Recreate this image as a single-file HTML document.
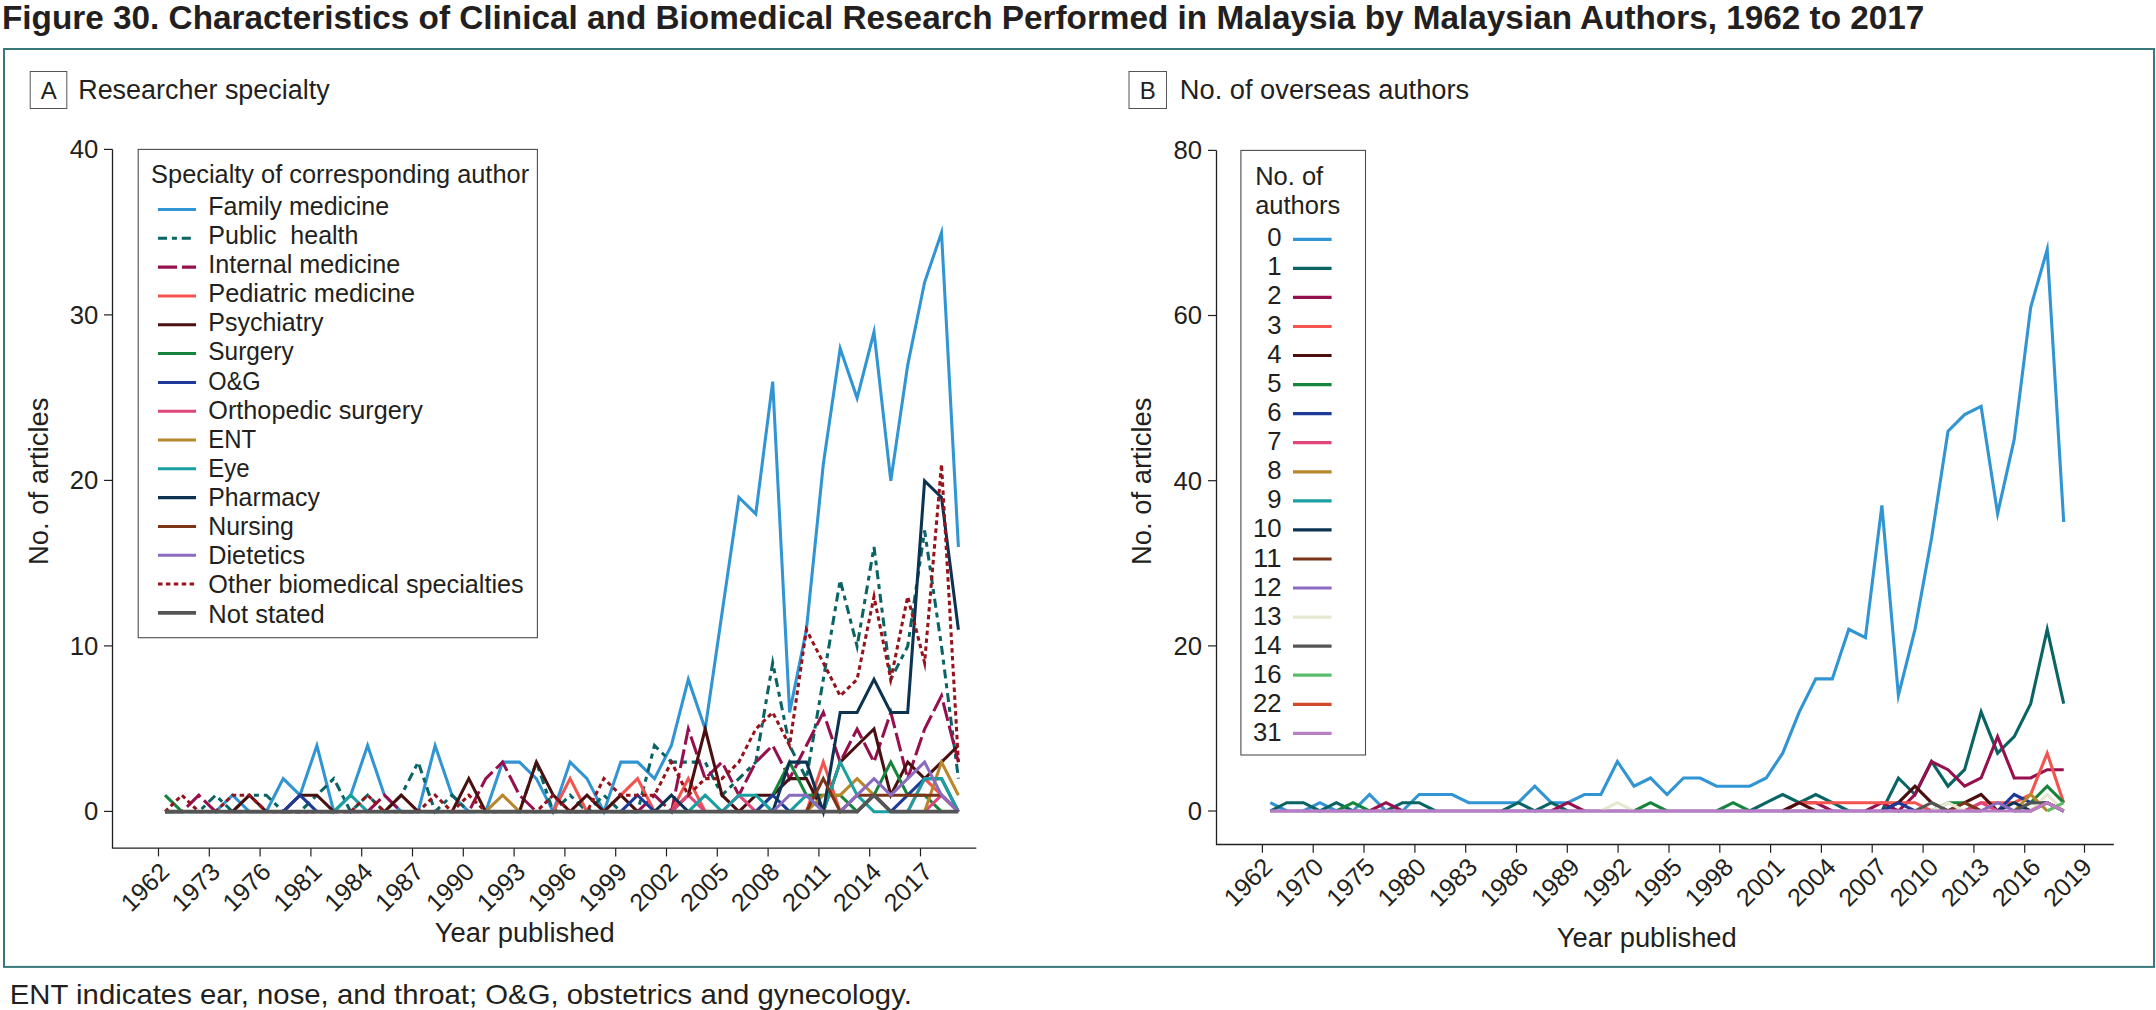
<!DOCTYPE html>
<html lang="en"><head><meta charset="utf-8"><title>Figure 30</title>
<style>html,body{margin:0;padding:0;background:#fff}body{width:2156px;height:1010px;overflow:hidden}svg{display:block;position:absolute;left:0;top:0}text{font-family:"Liberation Sans", sans-serif;fill:#231f20}.t24{font-size:25px}.t26{font-size:26.8px}.ln{fill:none;stroke-linejoin:miter;stroke-miterlimit:6.4;stroke-linecap:butt}</style>
</head><body>
<svg width="2156" height="1010" viewBox="0 0 2156 1010">
<text x="2.0" y="29.2" font-size="33.2" font-weight="bold" textLength="1922.4" lengthAdjust="spacingAndGlyphs">Figure 30. Characteristics of Clinical and Biomedical Research Performed in Malaysia by Malaysian Authors, 1962 to 2017</text>
<rect x="4" y="49" width="2150" height="917.9" fill="none" stroke="#397878" stroke-width="2"/>
<text x="9.8" y="1003.6" font-size="28" textLength="902" lengthAdjust="spacingAndGlyphs">ENT indicates ear, nose, and throat; O&amp;G, obstetrics and gynecology.</text>
<rect x="30.2" y="71.5" width="36.6" height="37.0" fill="#fff" stroke="#555" stroke-width="1"/>
<text x="48.7" y="98.8" font-size="24" text-anchor="middle">A</text>
<text x="78.2" y="98.8" class="t26" textLength="251.5" lengthAdjust="spacingAndGlyphs">Researcher specialty</text>
<rect x="1129.0" y="71.5" width="37.5" height="37.0" fill="#fff" stroke="#555" stroke-width="1"/>
<text x="1147.8" y="98.8" font-size="24" text-anchor="middle">B</text>
<text x="1179.8" y="98.8" class="t26" textLength="289.4" lengthAdjust="spacingAndGlyphs">No. of overseas authors</text>
<path d="M112.5 149.4V848.2H976.3" fill="none" stroke="#231f20" stroke-width="1.3"/>
<path d="M104.0 811.4H112.5" stroke="#231f20" stroke-width="1.2"/>
<text x="98.4" y="820.2" class="t24" text-anchor="end" textLength="14.3" lengthAdjust="spacingAndGlyphs">0</text>
<path d="M104.0 645.9H112.5" stroke="#231f20" stroke-width="1.2"/>
<text x="98.4" y="654.7" class="t24" text-anchor="end" textLength="28.6" lengthAdjust="spacingAndGlyphs">10</text>
<path d="M104.0 480.4H112.5" stroke="#231f20" stroke-width="1.2"/>
<text x="98.4" y="489.2" class="t24" text-anchor="end" textLength="28.6" lengthAdjust="spacingAndGlyphs">20</text>
<path d="M104.0 314.9H112.5" stroke="#231f20" stroke-width="1.2"/>
<text x="98.4" y="323.7" class="t24" text-anchor="end" textLength="28.6" lengthAdjust="spacingAndGlyphs">30</text>
<path d="M104.0 149.4H112.5" stroke="#231f20" stroke-width="1.2"/>
<text x="98.4" y="158.2" class="t24" text-anchor="end" textLength="28.6" lengthAdjust="spacingAndGlyphs">40</text>
<path d="M158.5 848.2V856.4" stroke="#231f20" stroke-width="1.2"/>
<text class="t24" text-anchor="end" transform="translate(170.8 873.4) rotate(-45)" textLength="56" lengthAdjust="spacingAndGlyphs">1962</text>
<path d="M209.3 848.2V856.4" stroke="#231f20" stroke-width="1.2"/>
<text class="t24" text-anchor="end" transform="translate(221.7 873.4) rotate(-45)" textLength="56" lengthAdjust="spacingAndGlyphs">1973</text>
<path d="M260.1 848.2V856.4" stroke="#231f20" stroke-width="1.2"/>
<text class="t24" text-anchor="end" transform="translate(272.5 873.4) rotate(-45)" textLength="56" lengthAdjust="spacingAndGlyphs">1976</text>
<path d="M310.9 848.2V856.4" stroke="#231f20" stroke-width="1.2"/>
<text class="t24" text-anchor="end" transform="translate(323.4 873.4) rotate(-45)" textLength="56" lengthAdjust="spacingAndGlyphs">1981</text>
<path d="M361.7 848.2V856.4" stroke="#231f20" stroke-width="1.2"/>
<text class="t24" text-anchor="end" transform="translate(374.3 873.4) rotate(-45)" textLength="56" lengthAdjust="spacingAndGlyphs">1984</text>
<path d="M412.5 848.2V856.4" stroke="#231f20" stroke-width="1.2"/>
<text class="t24" text-anchor="end" transform="translate(425.1 873.4) rotate(-45)" textLength="56" lengthAdjust="spacingAndGlyphs">1987</text>
<path d="M463.3 848.2V856.4" stroke="#231f20" stroke-width="1.2"/>
<text class="t24" text-anchor="end" transform="translate(476.0 873.4) rotate(-45)" textLength="56" lengthAdjust="spacingAndGlyphs">1990</text>
<path d="M514.1 848.2V856.4" stroke="#231f20" stroke-width="1.2"/>
<text class="t24" text-anchor="end" transform="translate(526.9 873.4) rotate(-45)" textLength="56" lengthAdjust="spacingAndGlyphs">1993</text>
<path d="M564.9 848.2V856.4" stroke="#231f20" stroke-width="1.2"/>
<text class="t24" text-anchor="end" transform="translate(577.8 873.4) rotate(-45)" textLength="56" lengthAdjust="spacingAndGlyphs">1996</text>
<path d="M615.7 848.2V856.4" stroke="#231f20" stroke-width="1.2"/>
<text class="t24" text-anchor="end" transform="translate(628.6 873.4) rotate(-45)" textLength="56" lengthAdjust="spacingAndGlyphs">1999</text>
<path d="M666.5 848.2V856.4" stroke="#231f20" stroke-width="1.2"/>
<text class="t24" text-anchor="end" transform="translate(679.5 873.4) rotate(-45)" textLength="56" lengthAdjust="spacingAndGlyphs">2002</text>
<path d="M717.3 848.2V856.4" stroke="#231f20" stroke-width="1.2"/>
<text class="t24" text-anchor="end" transform="translate(730.4 873.4) rotate(-45)" textLength="56" lengthAdjust="spacingAndGlyphs">2005</text>
<path d="M768.1 848.2V856.4" stroke="#231f20" stroke-width="1.2"/>
<text class="t24" text-anchor="end" transform="translate(781.2 873.4) rotate(-45)" textLength="56" lengthAdjust="spacingAndGlyphs">2008</text>
<path d="M818.9 848.2V856.4" stroke="#231f20" stroke-width="1.2"/>
<text class="t24" text-anchor="end" transform="translate(832.1 873.4) rotate(-45)" textLength="56" lengthAdjust="spacingAndGlyphs">2011</text>
<path d="M869.7 848.2V856.4" stroke="#231f20" stroke-width="1.2"/>
<text class="t24" text-anchor="end" transform="translate(883.0 873.4) rotate(-45)" textLength="56" lengthAdjust="spacingAndGlyphs">2014</text>
<path d="M920.5 848.2V856.4" stroke="#231f20" stroke-width="1.2"/>
<text class="t24" text-anchor="end" transform="translate(933.8 873.4) rotate(-45)" textLength="56" lengthAdjust="spacingAndGlyphs">2017</text>
<text class="t26" text-anchor="middle" transform="translate(47.5 481.3) rotate(-90)" textLength="167.5" lengthAdjust="spacingAndGlyphs">No. of articles</text>
<text x="434.8" y="941.5" class="t26" textLength="180" lengthAdjust="spacingAndGlyphs">Year published</text>
<path d="M1216.5 150.4V844.5H2113.8" fill="none" stroke="#231f20" stroke-width="1.3"/>
<path d="M1208.0 811.0H1216.5" stroke="#231f20" stroke-width="1.2"/>
<text x="1202.0" y="819.8" class="t24" text-anchor="end" textLength="14.3" lengthAdjust="spacingAndGlyphs">0</text>
<path d="M1208.0 645.9H1216.5" stroke="#231f20" stroke-width="1.2"/>
<text x="1202.0" y="654.6" class="t24" text-anchor="end" textLength="28.6" lengthAdjust="spacingAndGlyphs">20</text>
<path d="M1208.0 480.7H1216.5" stroke="#231f20" stroke-width="1.2"/>
<text x="1202.0" y="489.5" class="t24" text-anchor="end" textLength="28.6" lengthAdjust="spacingAndGlyphs">40</text>
<path d="M1208.0 315.5H1216.5" stroke="#231f20" stroke-width="1.2"/>
<text x="1202.0" y="324.3" class="t24" text-anchor="end" textLength="28.6" lengthAdjust="spacingAndGlyphs">60</text>
<path d="M1208.0 150.4H1216.5" stroke="#231f20" stroke-width="1.2"/>
<text x="1202.0" y="159.2" class="t24" text-anchor="end" textLength="28.6" lengthAdjust="spacingAndGlyphs">80</text>
<path d="M1262.4 844.5V852.7" stroke="#231f20" stroke-width="1.2"/>
<text class="t24" text-anchor="end" transform="translate(1273.9 868.5) rotate(-45)" textLength="56" lengthAdjust="spacingAndGlyphs">1962</text>
<path d="M1313.2 844.5V852.7" stroke="#231f20" stroke-width="1.2"/>
<text class="t24" text-anchor="end" transform="translate(1325.1 868.5) rotate(-45)" textLength="56" lengthAdjust="spacingAndGlyphs">1970</text>
<path d="M1364.0 844.5V852.7" stroke="#231f20" stroke-width="1.2"/>
<text class="t24" text-anchor="end" transform="translate(1376.3 868.5) rotate(-45)" textLength="56" lengthAdjust="spacingAndGlyphs">1975</text>
<path d="M1414.9 844.5V852.7" stroke="#231f20" stroke-width="1.2"/>
<text class="t24" text-anchor="end" transform="translate(1427.6 868.5) rotate(-45)" textLength="56" lengthAdjust="spacingAndGlyphs">1980</text>
<path d="M1465.7 844.5V852.7" stroke="#231f20" stroke-width="1.2"/>
<text class="t24" text-anchor="end" transform="translate(1478.8 868.5) rotate(-45)" textLength="56" lengthAdjust="spacingAndGlyphs">1983</text>
<path d="M1516.5 844.5V852.7" stroke="#231f20" stroke-width="1.2"/>
<text class="t24" text-anchor="end" transform="translate(1530.0 868.5) rotate(-45)" textLength="56" lengthAdjust="spacingAndGlyphs">1986</text>
<path d="M1567.3 844.5V852.7" stroke="#231f20" stroke-width="1.2"/>
<text class="t24" text-anchor="end" transform="translate(1581.2 868.5) rotate(-45)" textLength="56" lengthAdjust="spacingAndGlyphs">1989</text>
<path d="M1618.1 844.5V852.7" stroke="#231f20" stroke-width="1.2"/>
<text class="t24" text-anchor="end" transform="translate(1632.4 868.5) rotate(-45)" textLength="56" lengthAdjust="spacingAndGlyphs">1992</text>
<path d="M1669.0 844.5V852.7" stroke="#231f20" stroke-width="1.2"/>
<text class="t24" text-anchor="end" transform="translate(1683.7 868.5) rotate(-45)" textLength="56" lengthAdjust="spacingAndGlyphs">1995</text>
<path d="M1719.8 844.5V852.7" stroke="#231f20" stroke-width="1.2"/>
<text class="t24" text-anchor="end" transform="translate(1734.9 868.5) rotate(-45)" textLength="56" lengthAdjust="spacingAndGlyphs">1998</text>
<path d="M1770.6 844.5V852.7" stroke="#231f20" stroke-width="1.2"/>
<text class="t24" text-anchor="end" transform="translate(1786.1 868.5) rotate(-45)" textLength="56" lengthAdjust="spacingAndGlyphs">2001</text>
<path d="M1821.4 844.5V852.7" stroke="#231f20" stroke-width="1.2"/>
<text class="t24" text-anchor="end" transform="translate(1837.3 868.5) rotate(-45)" textLength="56" lengthAdjust="spacingAndGlyphs">2004</text>
<path d="M1872.2 844.5V852.7" stroke="#231f20" stroke-width="1.2"/>
<text class="t24" text-anchor="end" transform="translate(1888.5 868.5) rotate(-45)" textLength="56" lengthAdjust="spacingAndGlyphs">2007</text>
<path d="M1923.1 844.5V852.7" stroke="#231f20" stroke-width="1.2"/>
<text class="t24" text-anchor="end" transform="translate(1939.8 868.5) rotate(-45)" textLength="56" lengthAdjust="spacingAndGlyphs">2010</text>
<path d="M1973.9 844.5V852.7" stroke="#231f20" stroke-width="1.2"/>
<text class="t24" text-anchor="end" transform="translate(1991.0 868.5) rotate(-45)" textLength="56" lengthAdjust="spacingAndGlyphs">2013</text>
<path d="M2024.7 844.5V852.7" stroke="#231f20" stroke-width="1.2"/>
<text class="t24" text-anchor="end" transform="translate(2042.2 868.5) rotate(-45)" textLength="56" lengthAdjust="spacingAndGlyphs">2016</text>
<path d="M2084.5 844.5V852.7" stroke="#231f20" stroke-width="1.2"/>
<text class="t24" text-anchor="end" transform="translate(2093.4 868.5) rotate(-45)" textLength="56" lengthAdjust="spacingAndGlyphs">2019</text>
<text class="t26" text-anchor="middle" transform="translate(1151.0 481.3) rotate(-90)" textLength="167.5" lengthAdjust="spacingAndGlyphs">No. of articles</text>
<text x="1556.8" y="946.5" class="t26" textLength="180" lengthAdjust="spacingAndGlyphs">Year published</text>
<g>
<polyline class="ln" points="215.6,811.7 232.5,795.2 249.4,811.7" stroke="#3195d4" stroke-width="3.05"/>
<polyline class="ln" points="266.3,811.7 283.2,778.6 300.0,795.2 316.9,745.5 333.8,811.7 350.7,795.2 367.6,745.5 384.4,795.2 401.3,811.7" stroke="#3195d4" stroke-width="3.05"/>
<polyline class="ln" points="418.2,811.7 435.1,745.5 452.0,795.2 468.8,811.7" stroke="#3195d4" stroke-width="3.05"/>
<polyline class="ln" points="485.7,811.7 502.6,762.1 519.5,762.1 536.4,778.6 553.2,811.7 570.1,762.1 587.0,778.6 603.9,811.7 620.8,762.1 637.6,762.1 654.5,778.6 671.4,745.5 688.3,679.4 705.2,729.0 722.0,613.2 738.9,497.4 755.8,513.9 772.7,381.6 789.6,712.4 806.4,629.7 823.3,464.3 840.2,348.5 857.1,398.1 874.0,332.0 890.8,480.9 907.7,365.1 924.6,282.3 941.5,232.7 958.4,547.0" stroke="#3195d4" stroke-width="3.05"/>
<polyline class="ln" points="165.0,811.7 181.9,811.7 198.8,811.7 215.6,795.2 232.5,811.7 249.4,795.2 266.3,795.2 283.2,811.7 300.0,811.7 316.9,795.2 333.8,778.6 350.7,811.7 367.6,795.2 384.4,811.7 401.3,795.2 418.2,762.1 435.1,811.7 452.0,795.2 468.8,811.7 485.7,811.7 502.6,811.7 519.5,811.7 536.4,762.1 553.2,811.7 570.1,795.2 587.0,811.7 603.9,795.2 620.8,811.7 637.6,811.7 654.5,745.5 671.4,762.1 688.3,762.1 705.2,762.1 722.0,795.2 738.9,778.6 755.8,762.1 772.7,662.8 789.6,745.5 806.4,778.6 823.3,679.4 840.2,580.1 857.1,646.3 874.0,547.0 890.8,679.4 907.7,646.3 924.6,530.5 941.5,646.3 958.4,778.6" stroke="#0a6464" stroke-width="3.05" stroke-dasharray="9 4.9 5 4.9"/>
<polyline class="ln" points="165.0,811.7 181.9,811.7 198.8,795.2 215.6,811.7 232.5,811.7 249.4,811.7 266.3,811.7 283.2,811.7 300.0,811.7 316.9,811.7 333.8,811.7 350.7,811.7 367.6,811.7 384.4,795.2 401.3,811.7 418.2,811.7 435.1,811.7 452.0,811.7 468.8,811.7 485.7,778.6 502.6,762.1 519.5,795.2 536.4,811.7 553.2,811.7 570.1,811.7 587.0,811.7 603.9,811.7 620.8,811.7 637.6,811.7 654.5,795.2 671.4,811.7 688.3,729.0 705.2,778.6 722.0,762.1 738.9,795.2 755.8,762.1 772.7,745.5 789.6,778.6 806.4,745.5 823.3,712.4 840.2,762.1 857.1,729.0 874.0,762.1 890.8,712.4 907.7,778.6 924.6,729.0 941.5,695.9 958.4,762.1" stroke="#97104e" stroke-width="3.05" stroke-dasharray="19 4.9"/>
<polyline class="ln" points="553.2,811.7 570.1,778.6 587.0,811.7" stroke="#f4544f" stroke-width="3.05"/>
<polyline class="ln" points="603.9,811.7 620.8,795.2 637.6,778.6 654.5,811.7" stroke="#f4544f" stroke-width="3.05"/>
<polyline class="ln" points="671.4,811.7 688.3,778.6 705.2,811.7" stroke="#f4544f" stroke-width="3.05"/>
<polyline class="ln" points="806.4,811.7 823.3,762.1 840.2,811.7" stroke="#f4544f" stroke-width="3.05"/>
<polyline class="ln" points="907.7,811.7 924.6,778.6 941.5,795.2 958.4,811.7" stroke="#f4544f" stroke-width="3.05"/>
<polyline class="ln" points="232.5,811.7 249.4,795.2 266.3,811.7" stroke="#4a1010" stroke-width="3.05"/>
<polyline class="ln" points="283.2,811.7 300.0,795.2 316.9,795.2 333.8,811.7" stroke="#4a1010" stroke-width="3.05"/>
<polyline class="ln" points="384.4,811.7 401.3,795.2 418.2,811.7" stroke="#4a1010" stroke-width="3.05"/>
<polyline class="ln" points="452.0,811.7 468.8,778.6 485.7,811.7" stroke="#4a1010" stroke-width="3.05"/>
<polyline class="ln" points="519.5,811.7 536.4,762.1 553.2,795.2 570.1,811.7 587.0,795.2 603.9,811.7 620.8,795.2 637.6,811.7" stroke="#4a1010" stroke-width="3.05"/>
<polyline class="ln" points="671.4,811.7 688.3,795.2 705.2,729.0 722.0,795.2 738.9,811.7 755.8,795.2 772.7,795.2 789.6,778.6 806.4,778.6 823.3,811.7 840.2,762.1 857.1,745.5 874.0,729.0 890.8,795.2 907.7,762.1 924.6,778.6 941.5,762.1 958.4,745.5" stroke="#4a1010" stroke-width="3.05"/>
<polyline class="ln" points="165.0,795.2 181.9,811.7" stroke="#16843c" stroke-width="3.05"/>
<polyline class="ln" points="755.8,811.7 772.7,795.2 789.6,762.1 806.4,795.2 823.3,795.2 840.2,795.2 857.1,811.7 874.0,795.2 890.8,762.1 907.7,795.2 924.6,795.2 941.5,811.7" stroke="#16843c" stroke-width="3.05"/>
<polyline class="ln" points="283.2,811.7 300.0,795.2 316.9,811.7" stroke="#1e3a99" stroke-width="3.05"/>
<polyline class="ln" points="620.8,811.7 637.6,795.2 654.5,811.7" stroke="#1e3a99" stroke-width="3.05"/>
<polyline class="ln" points="755.8,811.7 772.7,795.2 789.6,811.7" stroke="#1e3a99" stroke-width="3.05"/>
<polyline class="ln" points="890.8,811.7 907.7,795.2 924.6,778.6 941.5,778.6 958.4,811.7" stroke="#1e3a99" stroke-width="3.05"/>
<polyline class="ln" points="671.4,811.7 688.3,795.2 705.2,811.7" stroke="#e0457b" stroke-width="3.05"/>
<polyline class="ln" points="722.0,811.7 738.9,795.2 755.8,811.7" stroke="#e0457b" stroke-width="3.05"/>
<polyline class="ln" points="924.6,811.7 941.5,795.2 958.4,811.7" stroke="#e0457b" stroke-width="3.05"/>
<polyline class="ln" points="485.7,811.7 502.6,795.2 519.5,811.7" stroke="#b8872b" stroke-width="3.05"/>
<polyline class="ln" points="806.4,811.7 823.3,795.2 840.2,795.2 857.1,778.6 874.0,795.2 890.8,811.7" stroke="#b8872b" stroke-width="3.05"/>
<polyline class="ln" points="924.6,811.7 941.5,762.1 958.4,795.2" stroke="#b8872b" stroke-width="3.05"/>
<polyline class="ln" points="165.0,811.7 181.9,811.7 198.8,811.7 215.6,811.7 232.5,811.7 249.4,811.7 266.3,811.7 283.2,811.7 300.0,811.7 316.9,811.7 333.8,811.7 350.7,795.2 367.6,811.7 384.4,811.7 401.3,811.7 418.2,811.7 435.1,811.7 452.0,811.7 468.8,811.7 485.7,811.7 502.6,811.7 519.5,811.7 536.4,811.7 553.2,811.7 570.1,811.7 587.0,811.7 603.9,811.7 620.8,811.7 637.6,811.7 654.5,811.7 671.4,811.7 688.3,811.7 705.2,795.2 722.0,811.7 738.9,795.2 755.8,795.2 772.7,811.7 789.6,811.7 806.4,795.2 823.3,811.7 840.2,762.1 857.1,795.2 874.0,811.7 890.8,811.7 907.7,811.7 924.6,778.6 941.5,778.6 958.4,811.7" stroke="#1aa0a0" stroke-width="3.05"/>
<polyline class="ln" points="654.5,811.7 671.4,795.2 688.3,811.7" stroke="#0c3352" stroke-width="3.05"/>
<polyline class="ln" points="772.7,811.7 789.6,762.1 806.4,762.1 823.3,811.7 840.2,712.4 857.1,712.4 874.0,679.4 890.8,712.4 907.7,712.4 924.6,480.9 941.5,497.4 958.4,629.7" stroke="#0c3352" stroke-width="3.05"/>
<polyline class="ln" points="806.4,811.7 823.3,778.6 840.2,811.7 857.1,795.2 874.0,795.2 890.8,795.2 907.7,795.2 924.6,795.2 941.5,795.2 958.4,811.7" stroke="#7c3519" stroke-width="3.05"/>
<polyline class="ln" points="772.7,811.7 789.6,795.2 806.4,795.2 823.3,811.7" stroke="#8a6bbf" stroke-width="3.05"/>
<polyline class="ln" points="840.2,811.7 857.1,795.2 874.0,778.6 890.8,795.2 907.7,778.6 924.6,762.1 941.5,795.2 958.4,811.7" stroke="#8a6bbf" stroke-width="3.05"/>
<polyline class="ln" points="165.0,811.7 181.9,795.2 198.8,811.7 215.6,811.7 232.5,795.2 249.4,795.2 266.3,811.7 283.2,811.7 300.0,811.7 316.9,811.7 333.8,811.7 350.7,811.7 367.6,795.2 384.4,811.7 401.3,811.7 418.2,811.7 435.1,795.2 452.0,811.7 468.8,795.2 485.7,811.7 502.6,811.7 519.5,811.7 536.4,811.7 553.2,795.2 570.1,811.7 587.0,811.7 603.9,778.6 620.8,795.2 637.6,795.2 654.5,795.2 671.4,762.1 688.3,795.2 705.2,778.6 722.0,778.6 738.9,762.1 755.8,729.0 772.7,712.4 789.6,745.5 806.4,629.7 823.3,662.8 840.2,695.9 857.1,679.4 874.0,596.6 890.8,679.4 907.7,596.6 924.6,662.8 941.5,464.3 958.4,762.1" stroke="#96131b" stroke-width="3.05" stroke-dasharray="4.5 3.4"/>
<polyline class="ln" points="165.0,811.7 181.9,811.7 198.8,811.7 215.6,811.7 232.5,811.7 249.4,811.7 266.3,811.7 283.2,811.7 300.0,811.7 316.9,811.7 333.8,811.7 350.7,811.7 367.6,811.7 384.4,811.7 401.3,811.7 418.2,811.7 435.1,811.7 452.0,811.7 468.8,811.7 485.7,811.7 502.6,811.7 519.5,811.7 536.4,811.7 553.2,811.7 570.1,811.7 587.0,811.7 603.9,811.7 620.8,811.7 637.6,811.7 654.5,811.7 671.4,811.7 688.3,811.7 705.2,811.7 722.0,811.7 738.9,811.7 755.8,811.7 772.7,811.7 789.6,811.7 806.4,811.7 823.3,811.7 840.2,811.7 857.1,811.7 874.0,795.2 890.8,811.7 907.7,811.7 924.6,811.7 941.5,811.7 958.4,811.7" stroke="#555555" stroke-width="3.8"/>
</g><g>
<polyline class="ln" points="1270.3,802.7 1286.8,811.0" stroke="#3195d4" stroke-width="3.1"/>
<polyline class="ln" points="1303.4,811.0 1319.9,802.7 1336.4,811.0" stroke="#3195d4" stroke-width="3.1"/>
<polyline class="ln" points="1353.0,811.0 1369.5,794.5 1386.0,811.0" stroke="#3195d4" stroke-width="3.1"/>
<polyline class="ln" points="1402.5,811.0 1419.1,794.5 1435.6,794.5 1452.1,794.5 1468.7,802.7 1485.2,802.7 1501.7,802.7 1518.2,802.7 1534.8,786.2 1551.3,802.7 1567.8,802.7 1584.4,794.5 1600.9,794.5 1617.4,761.5 1634.0,786.2 1650.5,778.0 1667.0,794.5 1683.5,778.0 1700.1,778.0 1716.6,786.2 1733.1,786.2 1749.7,786.2 1766.2,778.0 1782.7,753.2 1799.3,711.9 1815.8,678.9 1832.3,678.9 1848.8,629.3 1865.4,637.6 1881.9,505.5 1898.4,695.4 1915.0,629.3 1931.5,538.5 1948.0,431.2 1964.6,414.6 1981.1,406.4 1997.6,513.7 2014.2,439.4 2030.7,307.3 2047.2,249.5 2063.7,522.0" stroke="#3195d4" stroke-width="3.1"/>
<polyline class="ln" points="1270.3,811.0 1286.8,802.7 1303.4,802.7 1319.9,811.0 1336.4,802.7 1353.0,811.0" stroke="#0a6464" stroke-width="3.1"/>
<polyline class="ln" points="1386.0,811.0 1402.5,802.7 1419.1,802.7 1435.6,811.0" stroke="#0a6464" stroke-width="3.1"/>
<polyline class="ln" points="1501.7,811.0 1518.2,802.7 1534.8,811.0 1551.3,802.7 1567.8,811.0" stroke="#0a6464" stroke-width="3.1"/>
<polyline class="ln" points="1749.7,811.0 1766.2,802.7 1782.7,794.5 1799.3,802.7 1815.8,794.5 1832.3,802.7 1848.8,811.0" stroke="#0a6464" stroke-width="3.1"/>
<polyline class="ln" points="1881.9,811.0 1898.4,778.0 1915.0,794.5 1931.5,761.5 1948.0,786.2 1964.6,769.7 1981.1,711.9 1997.6,753.2 2014.2,736.7 2030.7,703.7 2047.2,629.3 2063.7,703.7" stroke="#0a6464" stroke-width="3.1"/>
<polyline class="ln" points="1369.5,811.0 1386.0,802.7 1402.5,811.0" stroke="#97104e" stroke-width="3.1"/>
<polyline class="ln" points="1551.3,811.0 1567.8,802.7 1584.4,811.0" stroke="#97104e" stroke-width="3.1"/>
<polyline class="ln" points="1782.7,811.0 1799.3,802.7 1815.8,802.7 1832.3,811.0" stroke="#97104e" stroke-width="3.1"/>
<polyline class="ln" points="1865.4,811.0 1881.9,802.7 1898.4,811.0 1915.0,794.5 1931.5,761.5 1948.0,769.7 1964.6,786.2 1981.1,778.0 1997.6,736.7 2014.2,778.0 2030.7,778.0 2047.2,769.7 2063.7,769.7" stroke="#97104e" stroke-width="3.1"/>
<polyline class="ln" points="1782.7,811.0 1799.3,802.7 1815.8,802.7 1832.3,802.7 1848.8,802.7 1865.4,802.7 1881.9,802.7 1898.4,802.7 1915.0,802.7 1931.5,811.0" stroke="#f4544f" stroke-width="3.1"/>
<polyline class="ln" points="1964.6,811.0 1981.1,802.7 1997.6,802.7 2014.2,802.7 2030.7,794.5 2047.2,753.2 2063.7,802.7" stroke="#f4544f" stroke-width="3.1"/>
<polyline class="ln" points="1782.7,811.0 1799.3,802.7 1815.8,811.0" stroke="#4a1010" stroke-width="3.1"/>
<polyline class="ln" points="1881.9,811.0 1898.4,802.7 1915.0,786.2 1931.5,802.7 1948.0,811.0 1964.6,802.7 1981.1,794.5 1997.6,811.0" stroke="#4a1010" stroke-width="3.1"/>
<polyline class="ln" points="1336.4,811.0 1353.0,802.7 1369.5,811.0" stroke="#16843c" stroke-width="3.1"/>
<polyline class="ln" points="1634.0,811.0 1650.5,802.7 1667.0,811.0" stroke="#16843c" stroke-width="3.1"/>
<polyline class="ln" points="1716.6,811.0 1733.1,802.7 1749.7,811.0" stroke="#16843c" stroke-width="3.1"/>
<polyline class="ln" points="1931.5,811.0 1948.0,802.7 1964.6,802.7 1981.1,811.0" stroke="#16843c" stroke-width="3.1"/>
<polyline class="ln" points="2014.2,811.0 2030.7,802.7 2047.2,786.2 2063.7,802.7" stroke="#16843c" stroke-width="3.1"/>
<polyline class="ln" points="1881.9,811.0 1898.4,802.7 1915.0,811.0" stroke="#1e3a99" stroke-width="3.1"/>
<polyline class="ln" points="1997.6,811.0 2014.2,794.5 2030.7,802.7 2047.2,802.7 2063.7,811.0" stroke="#1e3a99" stroke-width="3.1"/>
<polyline class="ln" points="1964.6,811.0 1981.1,802.7 1997.6,811.0" stroke="#e0457b" stroke-width="3.1"/>
<polyline class="ln" points="2014.2,811.0 2030.7,794.5 2047.2,811.0" stroke="#b8872b" stroke-width="3.1"/>
<polyline class="ln" points="2030.7,811.0 2047.2,802.7 2063.7,811.0" stroke="#1aa0a0" stroke-width="3.1"/>
<polyline class="ln" points="1997.6,811.0 2014.2,802.7 2030.7,811.0" stroke="#0c3352" stroke-width="3.1"/>
<polyline class="ln" points="1948.0,811.0 1964.6,802.7 1981.1,811.0" stroke="#7c3519" stroke-width="3.1"/>
<polyline class="ln" points="1270.3,811.0 1286.8,811.0 1303.4,811.0 1319.9,811.0 1336.4,811.0 1353.0,811.0 1369.5,811.0 1386.0,811.0 1402.5,811.0 1419.1,811.0 1435.6,811.0 1452.1,811.0 1468.7,811.0 1485.2,811.0 1501.7,811.0 1518.2,811.0 1534.8,811.0 1551.3,811.0 1567.8,811.0 1584.4,811.0 1600.9,811.0 1617.4,811.0 1634.0,811.0 1650.5,811.0 1667.0,811.0 1683.5,811.0 1700.1,811.0 1716.6,811.0 1733.1,811.0 1749.7,811.0 1766.2,811.0 1782.7,811.0 1799.3,811.0 1815.8,811.0 1832.3,811.0 1848.8,811.0 1865.4,811.0 1881.9,811.0 1898.4,811.0 1915.0,811.0 1931.5,811.0 1948.0,811.0 1964.6,811.0 1981.1,811.0 1997.6,802.7 2014.2,811.0 2030.7,811.0 2047.2,802.7 2063.7,811.0" stroke="#8a6bbf" stroke-width="3.1"/>
<polyline class="ln" points="1600.9,811.0 1617.4,802.7 1634.0,811.0" stroke="#e6e9cf" stroke-width="3.1"/>
<polyline class="ln" points="1931.5,811.0 1948.0,802.7 1964.6,811.0" stroke="#e6e9cf" stroke-width="3.1"/>
<polyline class="ln" points="2030.7,811.0 2047.2,794.5 2063.7,811.0" stroke="#e6e9cf" stroke-width="3.1"/>
<polyline class="ln" points="1915.0,811.0 1931.5,802.7 1948.0,811.0" stroke="#555555" stroke-width="3.1"/>
<polyline class="ln" points="2014.2,811.0 2030.7,802.7 2047.2,802.7 2063.7,811.0" stroke="#555555" stroke-width="3.1"/>
<polyline class="ln" points="2047.2,811.0 2063.7,802.7" stroke="#5dbb6f" stroke-width="3.1"/>
<polyline class="ln" points="2030.7,811.0 2047.2,802.7 2063.7,811.0" stroke="#cf4a2b" stroke-width="3.1"/>
<polyline class="ln" points="1270.3,811.0 1286.8,811.0 1303.4,811.0 1319.9,811.0 1336.4,811.0 1353.0,811.0 1369.5,811.0 1386.0,811.0 1402.5,811.0 1419.1,811.0 1435.6,811.0 1452.1,811.0 1468.7,811.0 1485.2,811.0 1501.7,811.0 1518.2,811.0 1534.8,811.0 1551.3,811.0 1567.8,811.0 1584.4,811.0 1600.9,811.0 1617.4,811.0 1634.0,811.0 1650.5,811.0 1667.0,811.0 1683.5,811.0 1700.1,811.0 1716.6,811.0 1733.1,811.0 1749.7,811.0 1766.2,811.0 1782.7,811.0 1799.3,811.0 1815.8,811.0 1832.3,811.0 1848.8,811.0 1865.4,811.0 1881.9,811.0 1898.4,811.0 1915.0,811.0 1931.5,811.0 1948.0,811.0 1964.6,811.0 1981.1,811.0 1997.6,811.0 2014.2,811.0 2030.7,811.0 2047.2,802.7 2063.7,811.0" stroke="#b87fc4" stroke-width="3.1"/>
</g>
<rect x="138.2" y="149.4" width="399.2" height="488.3" fill="#fff" stroke="#4d4d4d" stroke-width="1.1"/>
<text x="151.1" y="182.8" class="t24" textLength="378" lengthAdjust="spacingAndGlyphs">Specialty of corresponding author</text>
<path d="M158 209.5H196.05" stroke="#3195d4" stroke-width="3.05" fill="none"/>
<text x="208.3" y="214.8" class="t24" style="white-space:pre" textLength="180.8" lengthAdjust="spacingAndGlyphs">Family medicine</text>
<path d="M158 238.3H196.05" stroke="#0a6464" stroke-width="3.05" stroke-dasharray="9 4.9 5 4.9 9 100" fill="none"/>
<text x="208.3" y="243.9" class="t24" style="white-space:pre" textLength="150.2" lengthAdjust="spacingAndGlyphs">Public  health</text>
<path d="M158 267.1H196.05" stroke="#97104e" stroke-width="3.05" stroke-dasharray="19 4.9" fill="none"/>
<text x="208.3" y="273.0" class="t24" style="white-space:pre" textLength="191.9" lengthAdjust="spacingAndGlyphs">Internal medicine</text>
<path d="M158 295.9H196.05" stroke="#f4544f" stroke-width="3.05" fill="none"/>
<text x="208.3" y="302.2" class="t24" style="white-space:pre" textLength="206.8" lengthAdjust="spacingAndGlyphs">Pediatric medicine</text>
<path d="M158 324.7H196.05" stroke="#4a1010" stroke-width="3.05" fill="none"/>
<text x="208.3" y="331.3" class="t24" style="white-space:pre" textLength="115.2" lengthAdjust="spacingAndGlyphs">Psychiatry</text>
<path d="M158 353.5H196.05" stroke="#16843c" stroke-width="3.05" fill="none"/>
<text x="208.3" y="360.4" class="t24" style="white-space:pre" textLength="85.4" lengthAdjust="spacingAndGlyphs">Surgery</text>
<path d="M158 382.4H196.05" stroke="#1e3a99" stroke-width="3.05" fill="none"/>
<text x="208.3" y="389.5" class="t24" style="white-space:pre" textLength="52.4" lengthAdjust="spacingAndGlyphs">O&amp;G</text>
<path d="M158 411.2H196.05" stroke="#e0457b" stroke-width="3.05" fill="none"/>
<text x="208.3" y="418.6" class="t24" style="white-space:pre" textLength="214.5" lengthAdjust="spacingAndGlyphs">Orthopedic surgery</text>
<path d="M158 440.0H196.05" stroke="#b8872b" stroke-width="3.05" fill="none"/>
<text x="208.3" y="447.8" class="t24" style="white-space:pre" textLength="47.8" lengthAdjust="spacingAndGlyphs">ENT</text>
<path d="M158 468.8H196.05" stroke="#1aa0a0" stroke-width="3.05" fill="none"/>
<text x="208.3" y="476.9" class="t24" style="white-space:pre" textLength="41.4" lengthAdjust="spacingAndGlyphs">Eye</text>
<path d="M158 497.6H196.05" stroke="#0c3352" stroke-width="3.05" fill="none"/>
<text x="208.3" y="506.0" class="t24" style="white-space:pre" textLength="111.6" lengthAdjust="spacingAndGlyphs">Pharmacy</text>
<path d="M158 526.4H196.05" stroke="#7c3519" stroke-width="3.05" fill="none"/>
<text x="208.3" y="535.1" class="t24" style="white-space:pre" textLength="85.6" lengthAdjust="spacingAndGlyphs">Nursing</text>
<path d="M158 555.2H196.05" stroke="#8a6bbf" stroke-width="3.05" fill="none"/>
<text x="208.3" y="564.2" class="t24" style="white-space:pre" textLength="96.7" lengthAdjust="spacingAndGlyphs">Dietetics</text>
<path d="M158 584.0H196.05" stroke="#96131b" stroke-width="3.05" stroke-dasharray="4.5 3.4" fill="none"/>
<text x="208.3" y="593.4" class="t24" style="white-space:pre" textLength="315.4" lengthAdjust="spacingAndGlyphs">Other biomedical specialties</text>
<path d="M158 612.8H196.05" stroke="#555555" stroke-width="3.8" fill="none"/>
<text x="208.3" y="622.5" class="t24" style="white-space:pre" textLength="116.5" lengthAdjust="spacingAndGlyphs">Not stated</text>
<rect x="1240.9" y="150.4" width="124.6" height="604.6" fill="#fff" stroke="#4d4d4d" stroke-width="1.1"/>
<text x="1255.2" y="184.8" class="t24" textLength="68" lengthAdjust="spacingAndGlyphs">No. of</text>
<text x="1255.2" y="213.8" class="t24" textLength="85" lengthAdjust="spacingAndGlyphs">authors</text>
<text x="1281.6" y="246.2" class="t24" text-anchor="end" textLength="14.3" lengthAdjust="spacingAndGlyphs">0</text>
<path d="M1293 239.3H1331.6" stroke="#3195d4" stroke-width="3.2" fill="none"/>
<text x="1281.6" y="275.3" class="t24" text-anchor="end" textLength="14.3" lengthAdjust="spacingAndGlyphs">1</text>
<path d="M1293 268.4H1331.6" stroke="#0a6464" stroke-width="3.2" fill="none"/>
<text x="1281.6" y="304.4" class="t24" text-anchor="end" textLength="14.3" lengthAdjust="spacingAndGlyphs">2</text>
<path d="M1293 297.4H1331.6" stroke="#97104e" stroke-width="3.2" fill="none"/>
<text x="1281.6" y="333.6" class="t24" text-anchor="end" textLength="14.3" lengthAdjust="spacingAndGlyphs">3</text>
<path d="M1293 326.5H1331.6" stroke="#f4544f" stroke-width="3.2" fill="none"/>
<text x="1281.6" y="362.7" class="t24" text-anchor="end" textLength="14.3" lengthAdjust="spacingAndGlyphs">4</text>
<path d="M1293 355.5H1331.6" stroke="#4a1010" stroke-width="3.2" fill="none"/>
<text x="1281.6" y="391.8" class="t24" text-anchor="end" textLength="14.3" lengthAdjust="spacingAndGlyphs">5</text>
<path d="M1293 384.6H1331.6" stroke="#16843c" stroke-width="3.2" fill="none"/>
<text x="1281.6" y="420.9" class="t24" text-anchor="end" textLength="14.3" lengthAdjust="spacingAndGlyphs">6</text>
<path d="M1293 413.7H1331.6" stroke="#1e3a99" stroke-width="3.2" fill="none"/>
<text x="1281.6" y="450.0" class="t24" text-anchor="end" textLength="14.3" lengthAdjust="spacingAndGlyphs">7</text>
<path d="M1293 442.7H1331.6" stroke="#e0457b" stroke-width="3.2" fill="none"/>
<text x="1281.6" y="479.2" class="t24" text-anchor="end" textLength="14.3" lengthAdjust="spacingAndGlyphs">8</text>
<path d="M1293 471.8H1331.6" stroke="#b8872b" stroke-width="3.2" fill="none"/>
<text x="1281.6" y="508.3" class="t24" text-anchor="end" textLength="14.3" lengthAdjust="spacingAndGlyphs">9</text>
<path d="M1293 500.8H1331.6" stroke="#1aa0a0" stroke-width="3.2" fill="none"/>
<text x="1281.6" y="537.4" class="t24" text-anchor="end" textLength="28.6" lengthAdjust="spacingAndGlyphs">10</text>
<path d="M1293 529.9H1331.6" stroke="#0c3352" stroke-width="3.2" fill="none"/>
<text x="1281.6" y="566.5" class="t24" text-anchor="end" textLength="28.6" lengthAdjust="spacingAndGlyphs">11</text>
<path d="M1293 559.0H1331.6" stroke="#7c3519" stroke-width="3.2" fill="none"/>
<text x="1281.6" y="595.6" class="t24" text-anchor="end" textLength="28.6" lengthAdjust="spacingAndGlyphs">12</text>
<path d="M1293 588.0H1331.6" stroke="#8a6bbf" stroke-width="3.2" fill="none"/>
<text x="1281.6" y="624.8" class="t24" text-anchor="end" textLength="28.6" lengthAdjust="spacingAndGlyphs">13</text>
<path d="M1293 617.1H1331.6" stroke="#e6e9cf" stroke-width="3.2" fill="none"/>
<text x="1281.6" y="653.9" class="t24" text-anchor="end" textLength="28.6" lengthAdjust="spacingAndGlyphs">14</text>
<path d="M1293 646.1H1331.6" stroke="#555555" stroke-width="3.2" fill="none"/>
<text x="1281.6" y="683.0" class="t24" text-anchor="end" textLength="28.6" lengthAdjust="spacingAndGlyphs">16</text>
<path d="M1293 675.2H1331.6" stroke="#5dbb6f" stroke-width="3.2" fill="none"/>
<text x="1281.6" y="712.1" class="t24" text-anchor="end" textLength="28.6" lengthAdjust="spacingAndGlyphs">22</text>
<path d="M1293 704.3H1331.6" stroke="#cf4a2b" stroke-width="3.2" fill="none"/>
<text x="1281.6" y="741.2" class="t24" text-anchor="end" textLength="28.6" lengthAdjust="spacingAndGlyphs">31</text>
<path d="M1293 733.3H1331.6" stroke="#b87fc4" stroke-width="3.2" fill="none"/>
</svg></body></html>
